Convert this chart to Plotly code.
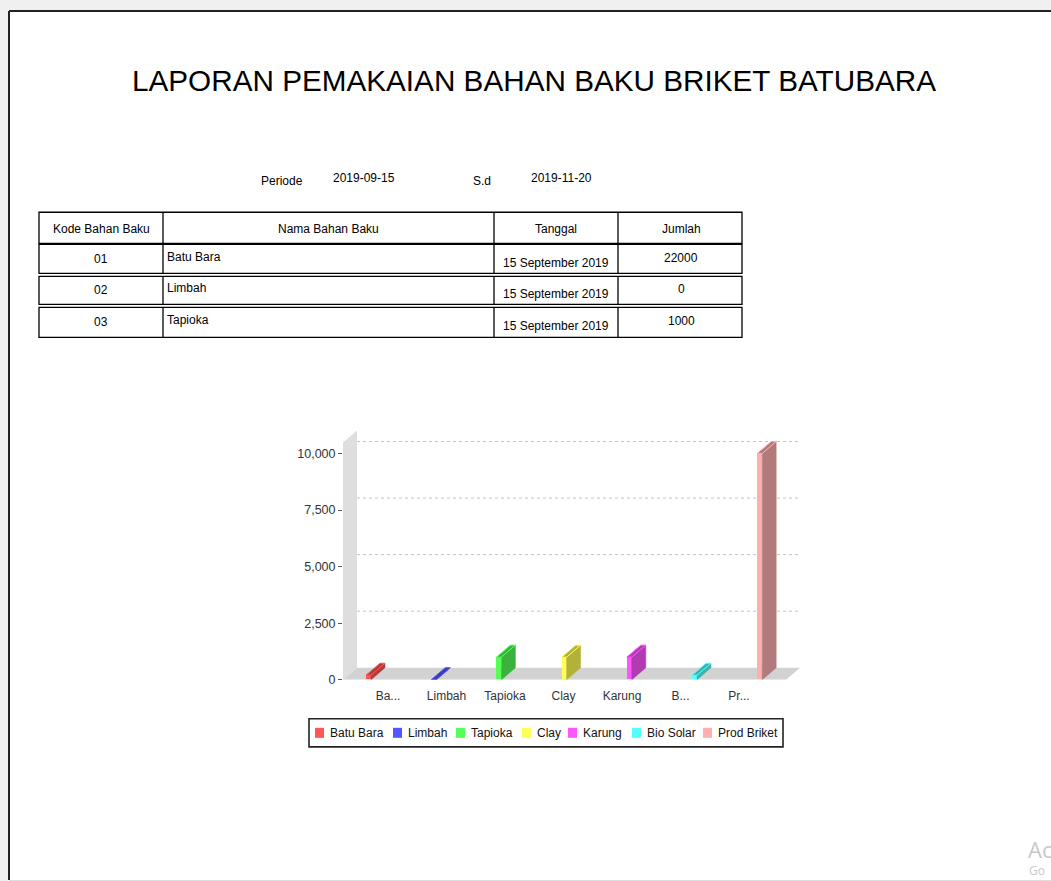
import plotly.graph_objects as go

# ---------------- data ----------------
period_start = "2019-09-15"
period_end = "2019-11-20"

table_header = ["Kode Bahan Baku", "Nama Bahan Baku", "Tanggal", "Jumlah"]
table_codes = ["01", "02", "03"]
table_names = ["Batu Bara", "Limbah", "Tapioka"]
table_dates = ["15 September 2019", "15 September 2019", "15 September 2019"]
table_amounts = [22000, 0, 1000]

series_names = ["Batu Bara", "Limbah", "Tapioka", "Clay", "Karung", "Bio Solar", "Prod Briket"]
series_values = [200, 0, 1000, 1000, 1000, 200, 10000]
tick_labels = ["Ba...", "Limbah", "Tapioka", "Clay", "Karung", "B...", "Pr..."]
y_ticks = [0, 2500, 5000, 7500, 10000]

base_colors = ["#ff5555", "#5555ff", "#55ff55", "#ffff55", "#ff55ff", "#55ffff", "#ffafaf"]
dark_colors = ["#b23b3b", "#3b3bb2", "#3bb23b", "#b2b23b", "#b23bb2", "#3bb2b2", "#b27a7a"]

# ---------------- layout helpers ----------------
W, H = 1051, 881      # target picture size (layout coordinates are given in it)
FIG_H = 889           # rendered height (the capture is scaled back to 881)
FONT = "Liberation Sans, Arial, sans-serif"


def px(x):
    return x / W


def py(y):
    return 1 - y / H


# chart geometry (page pixels)
UNIT = 65.2          # px per category step
ORIGIN = 366         # page x of category 0 front face
PX_PER_VAL = 0.0226  # px per value unit
Y0 = 679             # page y of value 0 (front)
X_LO = (343 - ORIGIN) / UNIT
X_HI = (800 - ORIGIN) / UNIT
Y_HI = (Y0 - 430) / PX_PER_VAL
FW = 5 / UNIT                # bar front width
DX = 14 / UNIT               # depth x
DY = 12 / PX_PER_VAL         # depth y
TICK_POS0 = (388 - ORIGIN) / UNIT
TICK_STEP = 58.5 / UNIT

fig = go.Figure()

# bars: side + top faces, then front face
for i, (name, v) in enumerate(zip(series_names, series_values)):
    x0 = i
    x1 = i + FW
    side_x = [x1, x1 + DX, x1 + DX, x1, x1]
    side_y = [0, DY, v + DY, v, 0]
    fig.add_trace(go.Scatter(x=side_x, y=side_y, fill="toself", mode="lines",
                             fillcolor=dark_colors[i], line=dict(color=dark_colors[i], width=0.5),
                             hoverinfo="skip", showlegend=False))
    top_x = [x0, x0 + DX, x1 + DX, x1, x0]
    top_y = [v, v + DY, v + DY, v, v]
    fig.add_trace(go.Scatter(x=top_x, y=top_y, fill="toself", mode="lines",
                             fillcolor=dark_colors[i], line=dict(color=base_colors[i], width=1),
                             hoverinfo="skip", showlegend=False))
    fig.add_trace(go.Bar(x=[x0 + FW / 2], y=[v], width=FW, name=name,
                         marker=dict(color=base_colors[i], line=dict(width=0)),
                         showlegend=False))

shapes = []
annotations = []

# page background / frame
shapes.append(dict(type="rect", xref="paper", yref="paper", x0=0, x1=1, y0=py(10), y1=1,
                   fillcolor="#f0f0f0", line=dict(width=0), layer="below"))
shapes.append(dict(type="rect", xref="paper", yref="paper", x0=0, x1=px(8), y0=0, y1=1,
                   fillcolor="#f0f0f0", line=dict(width=0), layer="below"))
shapes.append(dict(type="line", xref="paper", yref="paper", x0=px(9), x1=px(9), y0=py(879), y1=py(11),
                   line=dict(color="#222222", width=2)))
shapes.append(dict(type="line", xref="paper", yref="paper", x0=px(9), x1=1, y0=py(11), y1=py(11),
                   line=dict(color="#222222", width=2)))
shapes.append(dict(type="line", xref="paper", yref="paper", x0=px(9), x1=1, y0=py(880), y1=py(880),
                   line=dict(color="#dddddd", width=2)))

# 3D wall and floor
shapes.append(dict(type="path", xref="x", yref="y", layer="below",
                   path=f"M {X_LO},0 L {X_LO},{Y_HI - DY} L {X_LO + DX},{Y_HI} L {X_LO + DX},{DY} Z",
                   fillcolor="#dedede", line=dict(width=0)))
shapes.append(dict(type="path", xref="x", yref="y", layer="below",
                   path=f"M {X_LO},0 L {X_LO + DX},{DY} L {X_HI},{DY} L {X_HI - DX},0 Z",
                   fillcolor="#d2d2d2", line=dict(width=0)))
for t in y_ticks[1:]:
    shapes.append(dict(type="line", xref="x", yref="y", layer="below",
                       x0=X_LO + DX, x1=X_HI, y0=t + DY, y1=t + DY,
                       line=dict(color="#c4c4c4", width=1, dash="dot")))

# title
annotations.append(dict(text="LAPORAN PEMAKAIAN BAHAN BAKU BRIKET BATUBARA", xref="paper", yref="paper",
                        x=px(534), y=py(80), xanchor="center", yanchor="middle", showarrow=False,
                        font=dict(family="Liberation Sans, Arial", size=29.7, color="#000000")))

# periode line
for txt, xc, yc in [("Periode", 282, 181), (period_start, 364, 178), ("S.d", 482, 181), (period_end, 561, 178)]:
    annotations.append(dict(text=txt, xref="paper", yref="paper", x=px(xc), y=py(yc),
                            xanchor="center", yanchor="middle", showarrow=False,
                            font=dict(family=FONT, size=12, color="#000000")))

# table
TL, TR = 39, 742
COLS = [163, 494, 618]
col_centers = [101, 328, 556, 681]
row_boxes = [(212, 243), (244, 273), (276, 304), (307, 337)]
for bi, (top, bot) in enumerate(row_boxes):
    shapes.append(dict(type="rect", xref="paper", yref="paper", x0=px(TL), x1=px(TR),
                       y0=py(bot), y1=py(top), line=dict(color="#000000", width=1.3)))
    for c in COLS:
        shapes.append(dict(type="line", xref="paper", yref="paper", x0=px(c), x1=px(c),
                           y0=py(bot), y1=py(top), line=dict(color="#000000", width=1.3)))

for j, h in enumerate(table_header):
    annotations.append(dict(text=h, xref="paper", yref="paper", x=px(col_centers[j]), y=py(229),
                            xanchor="center", yanchor="middle", showarrow=False,
                            font=dict(family=FONT, size=12, color="#000000")))
for r in range(len(table_codes)):
    top, bot = row_boxes[r + 1]
    cy = (top + bot) / 2
    annotations.append(dict(text=table_codes[r], xref="paper", yref="paper", x=px(col_centers[0]), y=py(cy),
                            xanchor="center", yanchor="middle", showarrow=False,
                            font=dict(family=FONT, size=12, color="#000000")))
    annotations.append(dict(text=table_names[r], xref="paper", yref="paper", x=px(COLS[0] + 2), y=py(cy - 2),
                            xanchor="left", yanchor="middle", showarrow=False,
                            font=dict(family=FONT, size=12, color="#000000")))
    annotations.append(dict(text=table_dates[r], xref="paper", yref="paper", x=px(col_centers[2]), y=py(cy + 4),
                            xanchor="center", yanchor="middle", showarrow=False,
                            font=dict(family=FONT, size=12, color="#000000")))
    annotations.append(dict(text=str(table_amounts[r]), xref="paper", yref="paper", x=px(col_centers[3]),
                            y=py(cy - 1), xanchor="center", yanchor="middle", showarrow=False,
                            font=dict(family=FONT, size=12, color="#000000")))

# legend (manual)
LEG_X = [315, 393, 456, 522, 568, 632, 703]
LEG_Y = 732
shapes.append(dict(type="rect", xref="paper", yref="paper", x0=px(309), x1=px(783),
                   y0=py(746), y1=py(718), line=dict(color="#222222", width=1.6)))
for i, name in enumerate(series_names):
    shapes.append(dict(type="rect", xref="paper", yref="paper", x0=px(LEG_X[i]), x1=px(LEG_X[i] + 9),
                       y0=py(LEG_Y + 5), y1=py(LEG_Y - 5), fillcolor=base_colors[i], line=dict(width=0)))
    annotations.append(dict(text=name, xref="paper", yref="paper", x=px(LEG_X[i] + 13), y=py(LEG_Y),
                            xanchor="left", yanchor="middle", showarrow=False,
                            font=dict(family=FONT, size=12, color="#111111")))

# watermark fragments visible at the bottom-right corner
annotations.append(dict(text="Ac", xref="paper", yref="paper", x=px(1026), y=py(848),
                        xanchor="left", yanchor="middle", showarrow=False,
                        font=dict(family="Open Sans, Noto Sans, sans-serif", size=22, color="#c8c8c8")))
annotations.append(dict(text="Go", xref="paper", yref="paper",
                        x=px(1027), y=py(880), xanchor="left", yanchor="bottom", showarrow=False,
                        font=dict(family="Open Sans, Noto Sans, sans-serif", size=12, color="#c8c8c8")))

fig.update_layout(
    width=W, height=FIG_H,
    margin=dict(l=0, r=0, t=0, b=0),
    paper_bgcolor="#ffffff", plot_bgcolor="rgba(0,0,0,0)",
    showlegend=False,
    bargap=0,
    shapes=shapes,
    annotations=annotations,
    xaxis=dict(domain=[px(343), px(800)], range=[X_LO, X_HI], showgrid=False, zeroline=False,
               showline=False, tickmode="array",
               tickvals=[TICK_POS0 + TICK_STEP * i for i in range(len(tick_labels))],
               ticktext=tick_labels, ticks="outside", ticklen=5, tickcolor="rgba(0,0,0,0)",
               tickfont=dict(family=FONT, size=12, color="#333333"), fixedrange=True),
    yaxis=dict(domain=[py(Y0), py(430)], range=[0, Y_HI], showgrid=False, zeroline=False,
               showline=False, tickmode="array", tickvals=y_ticks, tickformat=",",
               ticks="outside", ticklen=4, tickcolor="#555555",
               tickfont=dict(family=FONT, size=12.5, color="#333333"), fixedrange=True),
)

fig.write_html("out.html", include_plotlyjs=True, config={"displayModeBar": False},
               post_script="document.body.style.margin='0';document.body.style.overflow='hidden';")
